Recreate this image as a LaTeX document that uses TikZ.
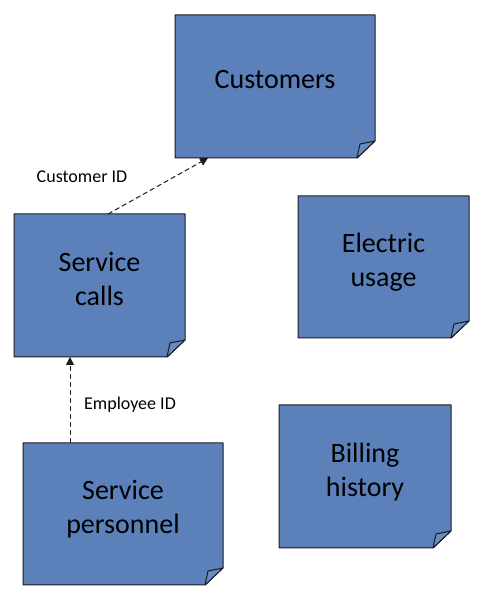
\documentclass[tikz,border=0pt]{standalone}
\usepackage{fontspec}
\setmainfont{Carlito}
\usepackage{xcolor}
\usetikzlibrary{arrows.meta,calc}
\pgfdeclarelayer{background}
\pgfsetlayers{background,main}
\definecolor{notefill}{RGB}{91,128,186}
\definecolor{notefold}{RGB}{104,139,194}
\definecolor{noteline}{RGB}{28,28,28}

\begin{document}
\begin{tikzpicture}[x=1pt,y=1pt,
    note/.style={rectangle, outer sep=0pt, inner sep=0pt,
        align=center, font=\fontsize{28}{34}\selectfont,
        execute at end node={\rule[-14pt]{0pt}{0pt}}},
    paper/.style={fill=notefill, draw=noteline, line width=1pt, line join=round},
    link/.style={dash pattern=on 5pt off 3pt, line width=1pt, draw=noteline,
        -{Triangle[length=8pt,width=8pt]}},
    tag/.style={font=\fontsize{18}{22}\selectfont}]
    \useasboundingbox (0,0) rectangle (481,603);

    % Sticky notes
    \node[note, minimum width=200pt, minimum height=143pt] (cust) at (275,516.5) {Customers};
    \node[note, minimum width=171pt, minimum height=143pt] (calls) at (99.5,317.5) {Service\\calls};
    \node[note, minimum width=171pt, minimum height=142pt] (usage) at (383.5,336) {Electric\\usage};
    \node[note, minimum width=200pt, minimum height=142pt] (staff) at (123,89) {Service\\personnel};
    \node[note, minimum width=172pt, minimum height=143pt] (bill) at (365,126.5) {Billing\\history};

    % Paper and folded corners
    \begin{pgfonlayer}{background}
    \foreach \n in {cust,calls,usage,staff,bill} {
        \draw[paper] (\n.north west) -- (\n.north east) -- ($(\n.south east)+(0,17)$)
            -- ($(\n.south east)+(-18,0)$) -- (\n.south west) -- cycle;
        \filldraw[paper, fill=notefold]
            ($(\n.south east)+(-18,0)$) -- ($(\n.south east)+(-15,14)$) -- ($(\n.south east)+(0,17)$) -- cycle;
    }
    \end{pgfonlayer}

    % Keys
    \draw[link] ([xshift=8.5pt]calls.north) -- ([xshift=-67pt]cust.south);
    \node[tag] (custid) at (82,426) {Customer ID};
    \draw[link] ([xshift=-53pt]staff.north) -- ([xshift=-29.5pt]calls.south);
    \node[tag] (empid) at (130,198) {Employee ID};
\end{tikzpicture}
\end{document}
